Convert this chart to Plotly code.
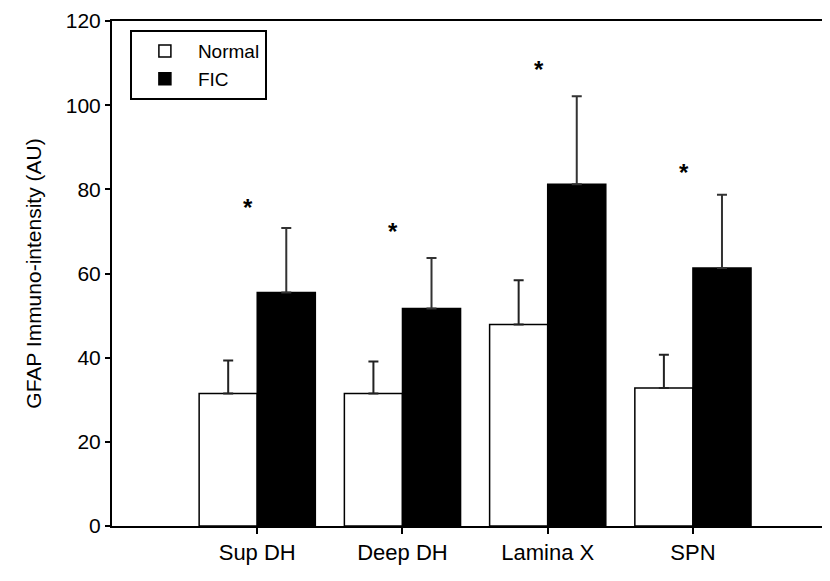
import plotly.graph_objects as go

categories = ["Sup DH", "Deep DH", "Lamina X", "SPN"]
normal_vals = [31.5, 31.5, 47.9, 32.8]
normal_err = [7.8, 7.6, 10.5, 7.9]
fic_vals = [55.5, 51.7, 81.2, 61.3]
fic_err = [15.3, 12.0, 20.9, 17.4]
star_y = [76.5, 70.8, 109.3, 84.7]
y_ticks = [0, 20, 40, 60, 80, 100, 120]

FONT = "Liberation Sans, Arial, sans-serif"

fig = go.Figure()
fig.add_trace(go.Bar(
    name="Normal", x=categories, y=normal_vals,
    marker=dict(color="white", line=dict(color="black", width=1.5)),
    error_y=dict(type="data", array=normal_err, arrayminus=[0]*4, symmetric=False,
                 color="#222", thickness=2, width=5),
))
fig.add_trace(go.Bar(
    name="FIC", x=categories, y=fic_vals,
    marker=dict(color="black", line=dict(color="black", width=1.5)),
    error_y=dict(type="data", array=fic_err, arrayminus=[0]*4, symmetric=False,
                 color="#333", thickness=2, width=5),
))

for c, sy in zip(categories, star_y):
    fig.add_annotation(x=c, y=sy, text="<b>*</b>", showarrow=False,
                       xshift=-9, yshift=-3, font=dict(family=FONT, size=24, color="black"))

fig.update_layout(
    width=822, height=573,
    margin=dict(l=104, r=2, t=13, b=55, autoexpand=False),
    paper_bgcolor="white", plot_bgcolor="white",
    barmode="group", bargap=0.2, bargroupgap=0,
    font=dict(family=FONT, color="black"),
    showlegend=True,
    legend=dict(x=0.025, y=0.982, xanchor="left", yanchor="top",
                bordercolor="black", borderwidth=2, bgcolor="white",
                font=dict(size=19, family=FONT), traceorder="normal",
                itemwidth=56, tracegroupgap=0),
    xaxis=dict(type="category", range=[-1, 3.93], showgrid=False, automargin=False,
               showline=True, linecolor="black", linewidth=2, mirror=True,
               ticks="outside", ticklen=6, tickwidth=1.5, tickcolor="black",
               tickfont=dict(size=22, family=FONT)),
    yaxis=dict(range=[0, 120], tickvals=y_ticks, showgrid=False, zeroline=False,
               automargin=False,
               showline=True, linecolor="black", linewidth=2, mirror=True,
               ticks="outside", ticklen=5, tickwidth=1.5, tickcolor="black",
               ticklabeloverflow="allow",
               tickfont=dict(size=21, family=FONT),
               title=dict(text="GFAP Immuno-intensity (AU)", font=dict(size=21, family=FONT), standoff=18)),
)

fig.write_html("out.html")
